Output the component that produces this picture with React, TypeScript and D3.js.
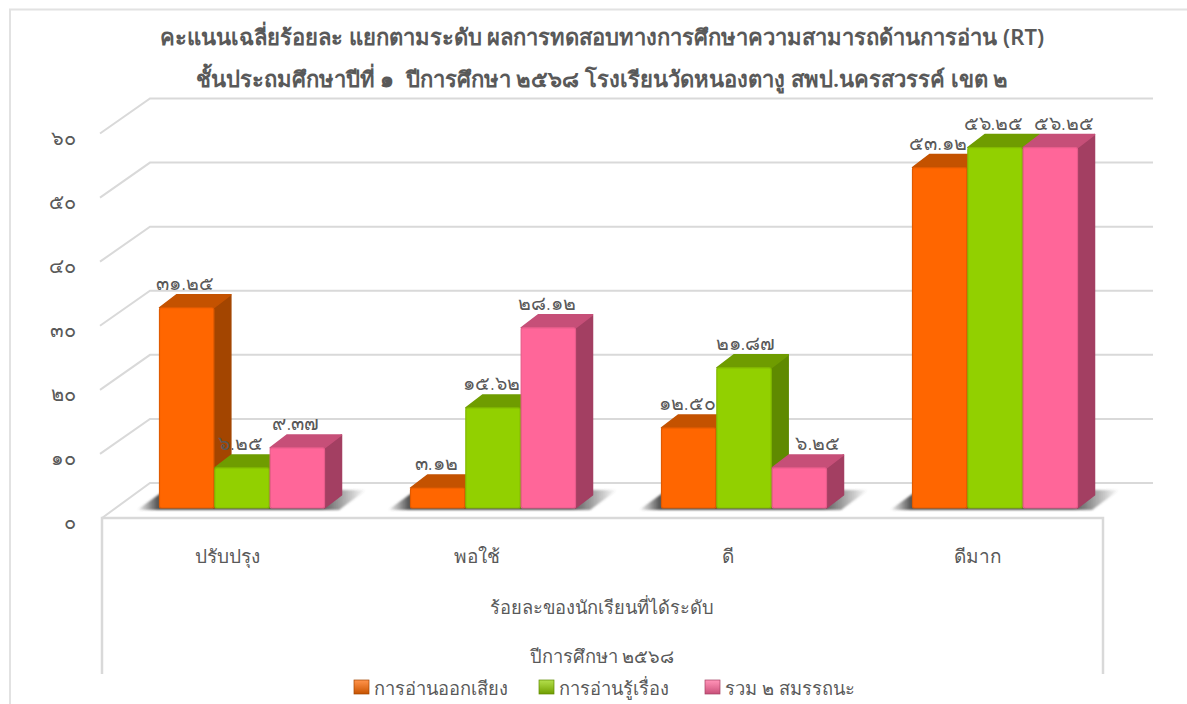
import * as d3 from "d3";

const categories = ["ปรับปรุง", "พอใช้", "ดี", "ดีมาก"];
const seriesNames = ["การอ่านออกเสียง", "การอ่านรู้เรื่อง", "รวม ๒ สมรรถนะ"];
const readingAloud = [31.25, 3.12, 12.5, 53.12];
const readingComp = [6.25, 15.62, 21.87, 56.25];
const combined = [9.37, 28.12, 6.25, 56.25];
const yTicks = [0, 10, 20, 30, 40, 50, 60];
const titleLines = [
  "คะแนนเฉลี่ยร้อยละ แยกตามระดับ ผลการทดสอบทางการศึกษาความสามารถด้านการอ่าน (RT)",
  "ชั้นประถมศึกษาปีที่ ๑  ปีการศึกษา ๒๕๖๘ โรงเรียนวัดหนองตางู สพป.นครสวรรค์ เขต ๒",
];
const xTitle = "ร้อยละของนักเรียนที่ได้ระดับ";
const yearTitle = "ปีการศึกษา ๒๕๖๘";

const W = 1187;
const H = 704;
const FONT = "'Noto Sans', 'DejaVu Sans', sans-serif";
const TEXT = "#595959";
const GRID = "#d9d9d9";

const thaiDigits = (s: string) => s.replace(/[0-9]/g, (c) => "๐๑๒๓๔๕๖๗๘๙"[+c]);

const colors = [
  { front: "#ff6600", edge: "#e05a00", top: "#c45200", side: "#a34500" },
  { front: "#92d000", edge: "#83ba00", top: "#6f9c00", side: "#5f8a00" },
  { front: "#ff6699", edge: "#e85c8b", top: "#c64f78", side: "#a33f62" },
];
// hand moved labels in the source chart: [series, category, dx]
const labelNudge: [number, number, number][] = [
  [1, 2, 3],
  [2, 2, 20],
  [2, 3, 15],
];

export default function App() {
  const values = [readingAloud, readingComp, combined];
  const dx = 48;
  const dy = 35;
  const barDx = 17;
  const barDy = 13;

  const x0 = d3.scaleBand<string>().domain(categories).range([116.5, 1120.5]).paddingInner(0.3386).paddingOuter(0.1693);
  const x1 = d3.scaleBand<number>().domain([0, 1, 2]).range([0, x0.bandwidth()]);
  const xLabel = d3.scaleBand<string>().domain(categories).range([102, 1103]);
  const yWall = d3.scaleLinear().domain([0, 60]).range([518, 133.5]);
  const yBar = d3.scaleLinear().domain([0, 60]).range([508, 123.5]);

  return (
    <svg width={W} height={H} style={{ position: "absolute", left: 0, top: 0 }} fontFamily={FONT}>
      <defs>
        <filter id="shadow" x="-20%" y="-80%" width="140%" height="260%">
          <feGaussianBlur stdDeviation="1.3" />
        </filter>
        <linearGradient id="shadowFill" x1="0" y1="0" x2="1" y2="0">
          <stop offset="0" stopColor="#555" stopOpacity={0} />
          <stop offset="0.09" stopColor="#555" stopOpacity={1} />
          <stop offset="0.8" stopColor="#555" stopOpacity={1} />
          <stop offset="1" stopColor="#555" stopOpacity={0} />
        </linearGradient>
        {colors.map((c, i) => (
          <linearGradient key={i} id={`leg${i}`} x1="0" y1="0" x2="0" y2="1">
            <stop offset="0" stopColor={c.front} stopOpacity={0.7} />
            <stop offset="1" stopColor={c.top} />
          </linearGradient>
        ))}
      </defs>
      <rect width={W} height={H} fill="#fff" />
      <path d={`M10,${H}V9.5H${W}`} fill="none" stroke="#e2e2e2" strokeWidth={2} />

      {titleLines.map((t, i) => (
        <text
          key={i}
          x={602}
          y={45 + i * 42}
          textAnchor="middle"
          fontSize={22}
          fontWeight={600}
          fill={TEXT}
          style={{ whiteSpace: "pre" }}
        >
          {t}
        </text>
      ))}

      {yTicks.map((t) => (
        <g key={t}>
          <path
            d={`M${102 - (t ? 2 : 0)},${yWall(t)}L${102 + dx},${yWall(t) - dy}H1153`}
            fill="none"
            stroke={GRID}
            strokeWidth={2}
          />
          <text x={76} y={yWall(t) + 11} textAnchor="end" fontSize={20} fontWeight={300} fill={TEXT}>
            {thaiDigits(String(t))}
          </text>
        </g>
      ))}
      <path d="M102,674V518H1103V674" fill="none" stroke={GRID} strokeWidth={2.5} />

      {categories.map((c) => {
        const x = x0(c)!;
        const r = x + x0.bandwidth();
        return (
          <g key={c}>
            <path
              d={`M${x - 22},510L${x + 6},490H${r + 41}L${r + 14},510Z`}
              fill="url(#shadowFill)"
              filter="url(#shadow)"
            />
            <text x={xLabel(c)! + xLabel.bandwidth() / 2} y={563} textAnchor="middle" fontSize={19} fill={TEXT}>
              {c}
            </text>
          </g>
        );
      })}

      {categories.map((c, ci) =>
        [0, 1, 2].map((si) => {
          const x = x0(c)! + x1(si)! + 0.5;
          const w = x1.bandwidth() - 1;
          const top = yBar(values[si][ci]);
          const col = colors[si];
          return (
            <g key={si}>
              <path
                d={`M${x + w},${top}l${barDx},${-barDy}V${508 - barDy}L${x + w},508Z`}
                fill={col.side}
                stroke={col.side}
                strokeWidth={1.5}
                strokeLinejoin="round"
              />
              <path
                d={`M${x},${top}l${barDx},${-barDy}h${w}l${-barDx},${barDy}Z`}
                fill={col.top}
                stroke={col.top}
                strokeWidth={1.5}
                strokeLinejoin="round"
              />
              <rect x={x} y={top} width={w} height={508 - top} rx={2} fill={col.front} stroke={col.edge} strokeWidth={1.2} />
            </g>
          );
        })
      )}

      {categories.map((c, ci) =>
        [0, 1, 2].map((si) => {
          const v = values[si][ci];
          const nudge = labelNudge.find((n) => n[0] === si && n[1] === ci)?.[2] ?? 0;
          return (
            <text
              key={si}
              x={x0(c)! + x1(si)! + x1.bandwidth() / 2 - 1.5 + nudge}
              y={yBar(v) - 18}
              textAnchor="middle"
              fontSize={19.5}
              fontWeight={300}
              fill={TEXT}
            >
              {thaiDigits(v.toFixed(2))}
            </text>
          );
        })
      )}

      <text x={602} y={614} textAnchor="middle" fontSize={18.3} fill={TEXT}>
        {xTitle}
      </text>
      <text x={602} y={663} textAnchor="middle" fontSize={18.3} fill={TEXT}>
        {yearTitle}
      </text>

      {seriesNames.map((s, i) => {
        const lx = [354, 539, 705][i];
        return (
          <g key={s}>
            <rect x={lx} y={680} width={15} height={14} fill={`url(#leg${i})`} stroke={colors[i].side} strokeWidth={0.7} />
            <text x={lx + 20} y={695} fontSize={18.3} fill={TEXT}>
              {s}
            </text>
          </g>
        );
      })}
    </svg>
  );
}
